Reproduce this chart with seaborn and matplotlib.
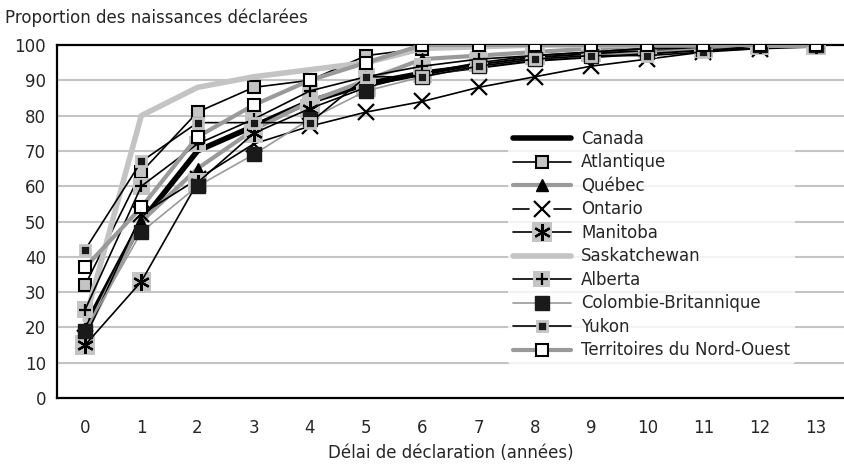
import matplotlib
matplotlib.use("Agg")
import matplotlib.pyplot as plt
import seaborn as sns
import pandas as pd
import numpy as np
from matplotlib.lines import Line2D
from matplotlib.patches import Rectangle
from matplotlib.legend_handler import HandlerLine2D, HandlerBase

delays = list(range(14))
canada       = [20, 50, 70, 77, 84, 89, 92, 94, 96, 97, 98, 99, 99.5, 100]
atlantique   = [32, 64, 81, 88, 90, 97, 99, 100, 100, 100, 100, 100, 100, 100]
quebec       = [18, 50, 65, 76, 84, 90, 96, 97, 98, 99, 99, 99.5, 100, 100]
ontario      = [17, 52, 62, 72, 77, 81, 84, 88, 91, 94, 96, 98, 99, 100]
manitoba     = [15, 33, 61, 75, 82, 88, 92, 95, 97, 98, 99, 99, 100, 100]
saskatchewan = [22, 80, 88, 91, 93, 95, 99, 99.5, 100, 100, 100, 100, 100, 100]
alberta      = [25, 60, 72, 79, 87, 91, 94, 96, 97, 98, 99, 99, 100, 100]
colombie     = [19, 47, 60, 69, 79, 87, 91, 94, 96, 97, 98, 99, 100, 100]
yukon        = [42, 67, 78, 78, 78, 91, 91, 94, 96, 97, 97, 98, 100, 100]
tno          = [37, 54, 74, 83, 90, 95, 100, 100, 100, 100, 100, 100, 100, 100]

names = ["Canada", "Atlantique", "Québec", "Ontario", "Manitoba", "Saskatchewan",
         "Alberta", "Colombie-Britannique", "Yukon", "Territoires du Nord-Ouest"]
series = [canada, atlantique, quebec, ontario, manitoba, saskatchewan,
          alberta, colombie, yukon, tno]

sns.set_style("white")
plt.rcParams['font.family'] = ['Liberation Sans Narrow', 'DejaVu Sans']

LG = "#c4c4c4"   # light grey
MG = "#9a9a9a"   # medium grey

styles = {
    "Canada": dict(color="black", lw=4.0, marker=None),
    "Atlantique": dict(color="black", lw=1.2, marker="s", ms=9, mfc=LG, mec="black", mew=1.5),
    "Québec": dict(color=MG, lw=3.0, marker="^", ms=9, mfc="black", mec="black", mew=1),
    "Ontario": dict(color="black", lw=1.2, marker="x", ms=11, mfc="black", mec="black", mew=1.6),
    "Manitoba": dict(color="black", lw=1.2, marker=(6, 2, 0), ms=12, mfc="black", mec="black", mew=1.6),
    "Saskatchewan": dict(color=LG, lw=4.0, marker=None),
    "Alberta": dict(color="black", lw=1.2, marker="+", ms=9, mfc="black", mec="black", mew=1.6),
    "Colombie-Britannique": dict(color=MG, lw=1.2, marker="s", ms=10, mfc="#1a1a1a", mec="#1a1a1a", mew=1),
    "Yukon": dict(color="black", lw=1.2, marker="s", ms=7, mfc="#1a1a1a", mec=LG, mew=2),
    "Territoires du Nord-Ouest": dict(color=MG, lw=3.0, marker="s", ms=9, mfc="white", mec="black", mew=1.5),
}
bg_sizes = {"Manitoba": 14, "Alberta": 12}

df = pd.DataFrame({"delai": np.tile(delays, len(names)),
                   "serie": np.repeat(names, len(delays)),
                   "valeur": np.concatenate(series)})

fig = plt.figure(figsize=(8.44, 4.66), dpi=100)
ax = fig.add_axes([57/844, 1-398/466, 1-57/844, (398-45)/466])

for i, n in enumerate(names):
    st = styles[n]
    sub = df[df.serie == n]
    z = 3 + i
    if n in bg_sizes:
        sns.scatterplot(data=sub, x="delai", y="valeur", ax=ax, marker="s",
                        s=bg_sizes[n] ** 2, color=LG, edgecolor="none",
                        zorder=z, legend=False)
    kw = dict(color=st["color"], linewidth=st["lw"])
    if st["marker"] is not None:
        kw.update(marker=st["marker"], markersize=st["ms"], markerfacecolor=st["mfc"],
                  markeredgecolor=st["mec"], markeredgewidth=st["mew"])
    sns.lineplot(data=sub, x="delai", y="valeur", ax=ax, zorder=z, legend=False, **kw)

ax.set_xlim(-0.5, 13.5)
ax.set_ylim(0, 100)
ax.set_yticks(range(0, 101, 10))
ax.set_xticks(delays)
ax.set_xticks(np.arange(0.5, 13.5, 1), minor=True)
ax.tick_params(axis="both", which="major", length=0, labelsize=12, pad=8)
ax.tick_params(axis="x", which="major", pad=15)
ax.tick_params(axis="x", which="minor", direction="in", length=6, width=1.3, color="black")
for yv in range(10, 100, 10):
    ax.axhline(yv, color=LG, lw=1.5, zorder=1)
for s in ["left", "bottom", "top"]:
    ax.spines[s].set_color("black")
    ax.spines[s].set_linewidth(1.6)
ax.spines["right"].set_visible(False)
ax.set_xlabel("Délai de déclaration (années)", fontsize=12, labelpad=5)
ax.set_ylabel("")

fig.text(5/844, 1-18/466, "Proportion des naissances déclarées", fontsize=12, va="center", ha="left")


class KeyHandler(HandlerBase):
    """Legend key: line (optionally with a gap) + optional grey square + marker."""
    def __init__(self, bg=None, gap=0, **kw):
        super().__init__(**kw)
        self._bg = bg
        self._gap = gap

    def create_artists(self, legend, orig_handle, xdescent, ydescent, width, height,
                       fontsize, trans):
        cy = (height - ydescent) / 2
        x0 = -xdescent
        x1 = width - xdescent
        cx = (x0 + x1) / 2
        out = []
        col = orig_handle.get_color()
        lw = orig_handle.get_linewidth()
        if self._gap:
            out.append(Line2D([x0, cx - self._gap], [cy, cy], color=col, lw=lw, transform=trans))
            out.append(Line2D([cx + self._gap, x1], [cy, cy], color=col, lw=lw, transform=trans))
        else:
            out.append(Line2D([x0, x1], [cy, cy], color=col, lw=lw, transform=trans))
        if self._bg:
            s = self._bg
            out.append(Rectangle((cx - s / 2, cy - s / 2), s, s, facecolor=LG,
                                 edgecolor="none", transform=trans))
        out.append(Line2D([cx], [cy], linestyle="none", marker=orig_handle.get_marker(),
                          markersize=orig_handle.get_markersize(),
                          markeredgecolor=orig_handle.get_markeredgecolor(),
                          markerfacecolor=orig_handle.get_markerfacecolor(),
                          markeredgewidth=orig_handle.get_markeredgewidth(),
                          transform=trans))
        return out


handles = []
hmap = {}
for n in names:
    st = styles[n]
    kw = dict(color=st["color"], linewidth=st["lw"])
    if st["marker"] is not None:
        kw.update(marker=st["marker"], markersize=st["ms"], markerfacecolor=st["mfc"],
                  markeredgecolor=st["mec"], markeredgewidth=st["mew"])
    line = Line2D([], [], **kw)
    if n in bg_sizes:
        hmap[line] = KeyHandler(bg=bg_sizes[n])
    elif n == "Ontario":
        hmap[line] = KeyHandler(gap=9)
    handles.append(line)

leg = ax.legend(handles, names, loc="upper left", bbox_to_anchor=(0.562, 0.797),
                frameon=True, fontsize=12, handlelength=3.5, labelspacing=0.33,
                borderpad=0.3, handletextpad=0.6, handler_map=hmap)
leg.get_frame().set_facecolor("white")
leg.get_frame().set_edgecolor("none")
leg.set_zorder(20)

fig.savefig("out.png", dpi=100)
